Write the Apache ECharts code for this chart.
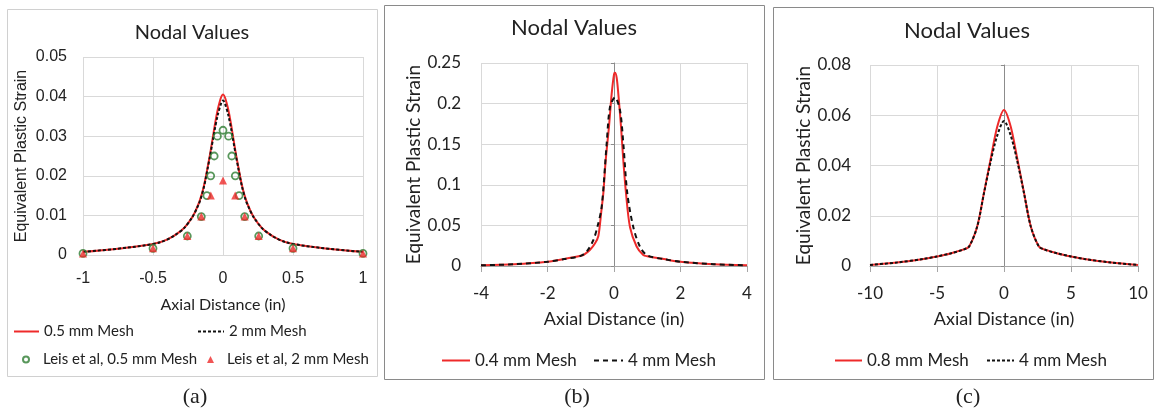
<!DOCTYPE html>
<html>
<head>
<meta charset="utf-8">
<script src="https://cdn.jsdelivr.net/npm/echarts@6/dist/echarts.min.js"></script>
<style>
html,body{margin:0;padding:0;background:#fff;}
#c{width:1154px;height:416px;}
</style>
</head>
<body>
<div id="c"></div>
<script>
// ---------- Panel (a) ----------
const aX = [-1,-0.75,-0.5,-0.4,-0.3,-0.25,-0.2,-0.15,-0.1,-0.075,-0.05,-0.025,0,0.025,0.05,0.075,0.1,0.15,0.2,0.25,0.3,0.4,0.5,0.75,1];
const aFine = [0.0008,0.0016,0.0028,0.0039,0.0061,0.0080,0.0108,0.0155,0.0240,0.0292,0.0345,0.0385,0.0405,0.0385,0.0345,0.0292,0.0240,0.0155,0.0108,0.0080,0.0061,0.0039,0.0028,0.0016,0.0008];
const aCoarse = [0.0008,0.0016,0.0028,0.0039,0.0061,0.0080,0.0108,0.0153,0.0236,0.0285,0.0333,0.0370,0.0390,0.0370,0.0333,0.0285,0.0236,0.0153,0.0108,0.0080,0.0061,0.0039,0.0028,0.0016,0.0008];
const leisFineX = [-1,-0.5,-0.255,-0.155,-0.115,-0.088,-0.063,-0.04,0,0.04,0.063,0.088,0.115,0.155,0.255,0.5,1];
const leisFineY = [0.0004,0.0017,0.0048,0.0097,0.0150,0.0200,0.0250,0.0300,0.0315,0.0300,0.0250,0.0200,0.0150,0.0097,0.0048,0.0017,0.0004];
const leisCoarseX = [-1,-0.5,-0.255,-0.155,-0.087,0,0.087,0.155,0.255,0.5,1];
const leisCoarseY = [0.0004,0.0017,0.0048,0.0097,0.0150,0.0188,0.0150,0.0097,0.0048,0.0017,0.0004];
const aXTicks = [-1,-0.5,0,0.5,1];
const aYTicks = [0,0.01,0.02,0.03,0.04,0.05];

// ---------- Panel (b) ----------
const bFineX = [-4,-3,-2,-1.5,-1,-0.9,-0.72,-0.57,-0.47,-0.38,-0.32,-0.25,-0.15,-0.07,0,0.03,0.08,0.13,0.21,0.28,0.36,0.48,0.68,0.88,1,1.5,2,3,4];
const bFineY = [0.0008,0.0022,0.0052,0.0085,0.0125,0.0140,0.0200,0.0280,0.0370,0.0680,0.0900,0.1300,0.1720,0.2120,0.2360,0.2380,0.2320,0.2120,0.1720,0.1300,0.0900,0.0480,0.0240,0.0135,0.0120,0.0085,0.0052,0.0022,0.0008];
const bCoarseX = [-4,-3,-2,-1.5,-1,-0.82,-0.62,-0.5,-0.37,-0.22,-0.12,0.03,0.18,0.28,0.40,0.58,0.78,1,1.5,2,3,4];
const bCoarseY = [0.0008,0.0022,0.0052,0.0085,0.0125,0.0177,0.0320,0.0480,0.0730,0.1510,0.1960,0.2077,0.1920,0.1510,0.0895,0.0480,0.0238,0.0130,0.0085,0.0052,0.0022,0.0008];
const bXTicks = [-4,-2,0,2,4];
const bYTicks = [0,0.05,0.1,0.15,0.2,0.25];

// ---------- Panel (c) ----------
const cX = [-10,-8,-6,-5,-4,-3,-2.6,-2,-1.5,-1,-0.5,0,0.5,1,1.5,2,2.6,3,4,5,6,8,10];
const cFine = [0.0004,0.0014,0.0028,0.0038,0.0050,0.0066,0.0078,0.0157,0.0290,0.0425,0.0555,0.0621,0.0555,0.0425,0.0290,0.0157,0.0078,0.0066,0.0050,0.0038,0.0028,0.0014,0.0004];
const cCoarse = [0.0004,0.0014,0.0028,0.0038,0.0050,0.0066,0.0078,0.0157,0.0288,0.0415,0.0520,0.0577,0.0520,0.0415,0.0288,0.0157,0.0078,0.0066,0.0050,0.0038,0.0028,0.0014,0.0004];
const cXTicks = [-10,-5,0,5,10];
const cYTicks = [0,0.02,0.04,0.06,0.08];

const zip = (xs, ys) => xs.map((x, i) => [x, ys[i]]);
const RED = '#ee2a2a', BLACK = '#111111', GREEN = '#2e7d32';
const TXT = '#222222';
const GRID = '#d9d9d9';

function xAxisBase(idx, ticks, opts) {
  return Object.assign({
    type: 'value', gridIndex: idx,
    min: ticks[0], max: ticks[ticks.length - 1], interval: ticks[1] - ticks[0],
    splitLine: {show: true, lineStyle: {color: GRID, width: 1}},
    name: 'Axial Distance (in)', nameLocation: 'middle'
  }, opts);
}
function yAxisBase(idx, ticks, opts) {
  return Object.assign({
    type: 'value', gridIndex: idx,
    min: ticks[0], max: ticks[ticks.length - 1], interval: ticks[1] - ticks[0],
    splitLine: {show: true, lineStyle: {color: GRID, width: 1}},
    axisLine: {show: false}, axisTick: {show: false},
    name: 'Equivalent Plastic Strain', nameLocation: 'middle', nameRotate: 90
  }, opts);
}

const titleStyle = (size) => ({fontFamily: 'Lato', fontSize: size, fontWeight: 'normal', color: TXT});
const lineLegend = (name, left, top, w, size, extra) => Object.assign({
  data: [name], left: left, top: top, itemWidth: w, itemHeight: 14, padding: 0,
  itemStyle: {opacity: 0},
  textStyle: {fontFamily: 'Lato', fontSize: size, color: TXT}
}, extra || {});

const option = {
  animation: false,
  backgroundColor: '#ffffff',
  title: [
    {text: 'Nodal Values', left: 192, top: 23, textAlign: 'center', padding: 0, textStyle: titleStyle(20)},
    {text: 'Nodal Values', left: 574, top: 17, textAlign: 'center', padding: 0, textStyle: titleStyle(22)},
    {text: 'Nodal Values', left: 967, top: 20, textAlign: 'center', padding: 0, textStyle: titleStyle(22)}
  ],
  grid: [
    {left: 83, top: 57, width: 280, height: 198},
    {left: 481, top: 63, width: 266, height: 203},
    {left: 870, top: 65, width: 268, height: 201}
  ],
  xAxis: [
    xAxisBase(0, aXTicks, {
      axisLine: {lineStyle: {color: GRID}}, axisTick: {show: false},
      axisLabel: {fontFamily: 'Liberation Sans', fontSize: 16, color: TXT, margin: 16},
      nameGap: 42, nameTextStyle: {fontFamily: 'Lato', fontSize: 16, color: TXT}
    }),
    xAxisBase(1, bXTicks, {
      axisLine: {lineStyle: {color: '#a6a6a6'}}, axisTick: {show: true, length: 6, lineStyle: {color: '#a6a6a6'}},
      axisLabel: {fontFamily: 'Lato', fontSize: 17, color: TXT, margin: 19},
      nameGap: 44, nameTextStyle: {fontFamily: 'Lato', fontSize: 18, color: TXT}
    }),
    xAxisBase(2, cXTicks, {
      axisLine: {lineStyle: {color: '#a6a6a6'}}, axisTick: {show: true, length: 6, lineStyle: {color: '#a6a6a6'}},
      axisLabel: {fontFamily: 'Lato', fontSize: 17, color: TXT, margin: 19},
      nameGap: 44, nameTextStyle: {fontFamily: 'Lato', fontSize: 18, color: TXT}
    })
  ],
  yAxis: [
    yAxisBase(0, aYTicks, {
      axisLabel: {fontFamily: 'Liberation Sans', fontSize: 16, color: TXT, margin: 16},
      nameGap: 53, nameTextStyle: {fontFamily: 'Liberation Sans', fontSize: 16, color: TXT}
    }),
    yAxisBase(1, bYTicks, {
      axisLabel: {fontFamily: 'Lato', fontSize: 17, color: TXT, margin: 20},
      nameGap: 58, nameTextStyle: {fontFamily: 'Lato', fontSize: 19, color: TXT}
    }),
    yAxisBase(2, cYTicks, {
      axisLabel: {fontFamily: 'Lato', fontSize: 17, color: TXT, margin: 19},
      nameGap: 57, nameTextStyle: {fontFamily: 'Lato', fontSize: 19, color: TXT}
    }),
    // vertical axis lines crossing at x = 0 in panels (b) and (c)
    {type: 'value', gridIndex: 1, min: bYTicks[0], max: bYTicks[bYTicks.length - 1], interval: bYTicks[1] - bYTicks[0],
     position: 'left', offset: -133, axisLabel: {show: false}, splitLine: {show: false},
     axisLine: {show: true, onZero: false, lineStyle: {color: '#8c8c8c'}},
     axisTick: {show: true, inside: false, length: 3, lineStyle: {color: '#8c8c8c'}}},
    {type: 'value', gridIndex: 2, min: cYTicks[0], max: cYTicks[cYTicks.length - 1], interval: cYTicks[1] - cYTicks[0],
     position: 'left', offset: -134, axisLabel: {show: false}, splitLine: {show: false},
     axisLine: {show: true, onZero: false, lineStyle: {color: '#8c8c8c'}},
     axisTick: {show: true, inside: false, length: 3, lineStyle: {color: '#8c8c8c'}}}
  ],
  legend: [
    lineLegend('0.5 mm Mesh', 13, 324, 25, 15),
    lineLegend('2 mm Mesh', 197, 324, 26, 15),
    {data: ['Leis et al, 0.5 mm Mesh'], left: 22, top: 352, itemWidth: 6, itemHeight: 6, padding: 0,
     textStyle: {fontFamily: 'Lato', fontSize: 15, color: TXT, padding: [0, 0, 0, 9]}},
    {data: ['Leis et al, 2 mm Mesh'], left: 207, top: 352, itemWidth: 7, itemHeight: 7, padding: 0,
     textStyle: {fontFamily: 'Lato', fontSize: 15, color: TXT, padding: [0, 0, 0, 8]}},
    lineLegend('0.4 mm Mesh', 441, 352, 28, 17),
    lineLegend({name: '4 mm Mesh', lineStyle: {type: [5, 4], color: BLACK, width: 2}}, 593, 352, 29, 17),
    lineLegend('0.8 mm Mesh', 834, 352, 27, 17),
    lineLegend({name: '4 mm Mesh', lineStyle: {type: [3, 2], color: BLACK, width: 2}}, 986, 352, 27, 17)
  ],
  series: [
    {type: 'line', name: '0.5 mm Mesh', xAxisIndex: 0, yAxisIndex: 0, data: zip(aX, aFine),
     smooth: 0.4, symbol: 'none', lineStyle: {color: RED, width: 2}, itemStyle: {color: RED}, z: 2},
    {type: 'line', name: '2 mm Mesh', xAxisIndex: 0, yAxisIndex: 0, data: zip(aX, aCoarse),
     smooth: 0.4, symbol: 'none', lineStyle: {color: BLACK, width: 2, type: [3, 2]}, itemStyle: {color: BLACK}, z: 3},
    {type: 'scatter', name: 'Leis et al, 0.5 mm Mesh', xAxisIndex: 0, yAxisIndex: 0, data: zip(leisFineX, leisFineY),
     symbol: 'circle', symbolSize: 7, itemStyle: {color: 'rgba(255,255,255,0)', borderColor: GREEN, borderWidth: 1.8}, z: 4},
    {type: 'scatter', name: 'Leis et al, 2 mm Mesh', xAxisIndex: 0, yAxisIndex: 0, data: zip(leisCoarseX, leisCoarseY),
     symbol: 'triangle', symbolSize: 8, itemStyle: {color: RED}, z: 5},

    {type: 'line', name: '0.4 mm Mesh', xAxisIndex: 1, yAxisIndex: 1, data: zip(bFineX, bFineY),
     smooth: 0.3, symbol: 'none', lineStyle: {color: RED, width: 2}, itemStyle: {color: RED}, z: 2},
    {type: 'line', name: '4 mm Mesh', xAxisIndex: 1, yAxisIndex: 1, data: zip(bCoarseX, bCoarseY),
     smooth: 0.3, symbol: 'none', lineStyle: {color: BLACK, width: 2, type: [5, 4]}, itemStyle: {color: BLACK}, z: 3},

    {type: 'line', name: '0.8 mm Mesh', xAxisIndex: 2, yAxisIndex: 2, data: zip(cX, cFine),
     smooth: 0.3, symbol: 'none', lineStyle: {color: RED, width: 2}, itemStyle: {color: RED}, z: 2},
    {type: 'line', name: '4 mm Mesh', xAxisIndex: 2, yAxisIndex: 2, data: zip(cX, cCoarse),
     smooth: 0.3, symbol: 'none', lineStyle: {color: BLACK, width: 2, type: [3, 2]}, itemStyle: {color: BLACK}, z: 3}
  ],
  graphic: [
    {type: 'rect', silent: true, z: -10, shape: {x: 7.5, y: 9.5, width: 370, height: 367}, style: {fill: 'none', stroke: '#d0d0d0', lineWidth: 1}},
    {type: 'rect', silent: true, z: -10, shape: {x: 384.5, y: 5.5, width: 380, height: 374}, style: {fill: 'none', stroke: '#8a8a8a', lineWidth: 1}},
    {type: 'rect', silent: true, z: -10, shape: {x: 773.5, y: 7.5, width: 380, height: 372}, style: {fill: 'none', stroke: '#8a8a8a', lineWidth: 1}},
    {type: 'text', silent: true, x: 195, y: 397, style: {text: '(a)', fontFamily: 'Liberation Serif', fontSize: 22, fill: TXT, align: 'center', verticalAlign: 'middle'}},
    {type: 'text', silent: true, x: 577, y: 397, style: {text: '(b)', fontFamily: 'Liberation Serif', fontSize: 22, fill: TXT, align: 'center', verticalAlign: 'middle'}},
    {type: 'text', silent: true, x: 968, y: 397, style: {text: '(c)', fontFamily: 'Liberation Serif', fontSize: 22, fill: TXT, align: 'center', verticalAlign: 'middle'}}
  ]
};

const chart = echarts.init(document.getElementById('c'), null, {renderer: 'canvas'});
chart.setOption(option);
</script>
</body>
</html>
